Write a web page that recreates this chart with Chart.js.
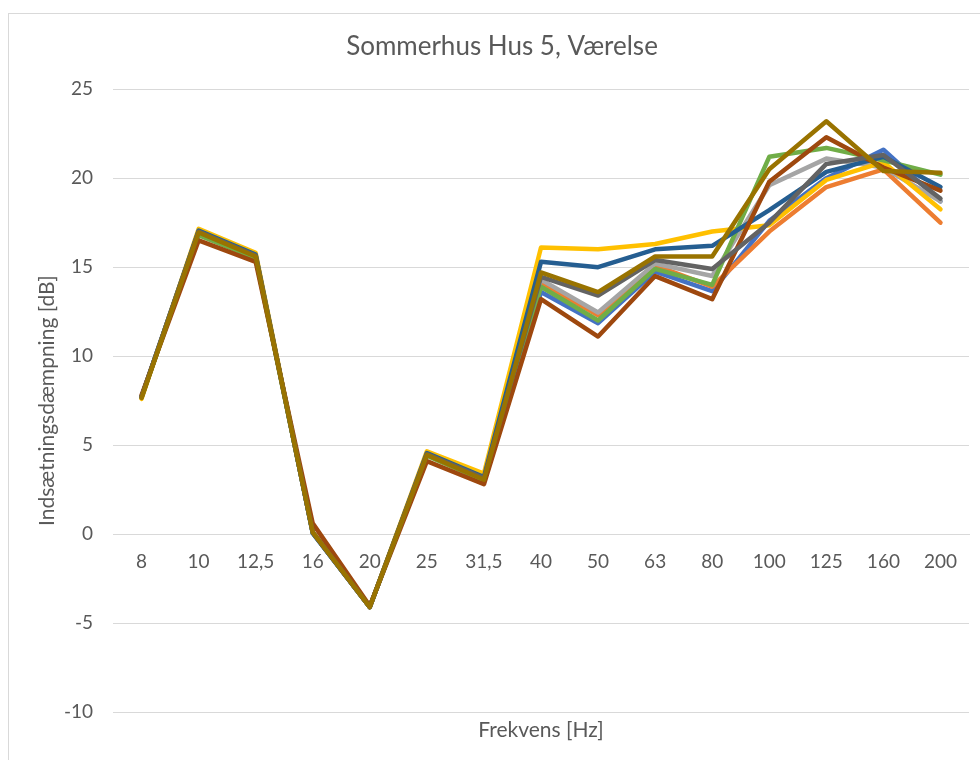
<!DOCTYPE html>
<html>
<head>
<meta charset="utf-8">
<script src="https://cdn.jsdelivr.net/npm/chart.js@4"></script>
<style>
  html, body { margin: 0; padding: 0; background: #fff; overflow: hidden; }
  #frame { position: absolute; left: 8px; top: 13px; width: 1000px; height: 800px; border: 1px solid #d9d9d9; box-sizing: border-box; }
  #wrap { position: absolute; left: 0; top: 0; width: 980px; height: 760px; }
</style>
</head>
<body>
<div id="frame"></div>
<div id="wrap"><canvas id="c" width="980" height="760"></canvas></div>
<script>
const categories = ['8','10','12,5','16','20','25','31,5','40','50','63','80','100','125','160','200'];
const yTicks = [-10, -5, 0, 5, 10, 15, 20, 25];
const xTitle = 'Frekvens [Hz]';

const s1 = [7.7, 17.0, 15.7, 0.05, -4.1, 4.5, 3.1, 13.6, 11.85, 14.75, 13.65, 17.6, 20.0, 21.6, 18.7];
const s2 = [7.7, 17.0, 15.6, 0.1, -4.1, 4.5, 3.1, 14.1, 12.3, 15.1, 13.9, 17.0, 19.5, 20.5, 17.5];
const s3 = [7.7, 17.0, 15.6, 0.1, -4.1, 4.5, 3.1, 14.3, 12.45, 15.2, 14.5, 19.6, 21.1, 20.6, 18.7];
const s4 = [7.6, 17.15, 15.8, 0.1, -4.1, 4.65, 3.4, 16.1, 16.0, 16.3, 17.0, 17.35, 19.9, 20.9, 18.25];
const s5 = [7.7, 16.8, 15.5, 0.1, -4.1, 4.4, 3.0, 13.9, 12.0, 14.9, 14.0, 21.2, 21.7, 21.0, 20.2];
const s6 = [7.7, 17.05, 15.7, 0.05, -4.1, 4.55, 3.2, 15.3, 15.0, 16.0, 16.2, 18.2, 20.35, 21.2, 19.5];
const s7 = [7.8, 16.5, 15.3, 0.6, -4.05, 4.1, 2.8, 13.2, 11.1, 14.5, 13.2, 19.8, 22.3, 20.6, 19.3];
const s8 = [7.7, 17.0, 15.65, 0.1, -4.1, 4.5, 3.15, 14.45, 13.4, 15.4, 14.9, 17.5, 20.8, 21.3, 18.85];
const s9 = [7.65, 16.95, 15.6, 0.1, -4.1, 4.45, 3.05, 14.7, 13.6, 15.6, 15.6, 20.5, 23.2, 20.4, 20.3];

const seriesList = [s1, s2, s3, s4, s5, s6, s7, s8, s9];
const colors = ['#4472C4','#ED7D31','#A5A5A5','#FFC000','#70AD47','#255E91','#9E480E','#636363','#997300'];

const FONT = 'Lato, "Open Sans", sans-serif';
const TXT = '#595959';

const xTitlePlugin = {
  id: 'xTitle',
  afterDraw(chart) {
    const ctx = chart.ctx, a = chart.chartArea;
    ctx.save();
    ctx.fillStyle = TXT;
    ctx.font = '21px ' + FONT;
    ctx.textAlign = 'center';
    ctx.textBaseline = 'middle';
    ctx.fillText(xTitle, (a.left + a.right) / 2, a.bottom + 18);
    ctx.restore();
  }
};

new Chart(document.getElementById('c'), {
  type: 'line',
  data: {
    labels: categories,
    datasets: seriesList.map((d, i) => ({
      label: 'Serie ' + (i + 1),
      data: d,
      order: seriesList.length - i,
      borderColor: colors[i],
      backgroundColor: colors[i],
      borderWidth: 4.5,
      pointRadius: 0,
      tension: 0,
      borderJoinStyle: 'round',
      borderCapStyle: 'round',
      fill: false
    }))
  },
  plugins: [xTitlePlugin],
  options: {
    responsive: false,
    animation: false,
    events: [],
    layout: { padding: { left: 35, right: 11, top: 0, bottom: 48 } },
    plugins: {
      legend: { display: false },
      tooltip: { enabled: false },
      title: {
        display: true,
        text: 'Sommerhus Hus 5, Værelse',
        color: TXT,
        font: { family: FONT, size: 26, weight: 'normal' },
        padding: { top: 31, bottom: 27 }
      }
    },
    scales: {
      x: {
        type: 'category',
        position: { y: 0 },
        offset: true,
        grid: { display: false, drawTicks: false },
        border: { display: true, color: '#d9d9d9', width: 1 },
        ticks: { color: TXT, font: { family: FONT, size: 19 }, padding: 16, autoSkip: false, maxRotation: 0 }
      },
      y: {
        min: -10,
        max: 25,
        afterFit: (scale) => { scale.width = 78; },
        afterBuildTicks: (scale) => { scale.ticks = yTicks.map(v => ({ value: v })); },
        grid: { color: '#d9d9d9', lineWidth: 1, drawTicks: false },
        border: { display: false },
        ticks: { color: TXT, font: { family: FONT, size: 19 }, padding: 20 },
        title: {
          display: true,
          text: 'Indsætningsdæmpning [dB]',
          color: TXT,
          font: { family: FONT, size: 21, weight: 'normal' },
          padding: 0
        }
      }
    }
  }
});
</script>
</body>
</html>
